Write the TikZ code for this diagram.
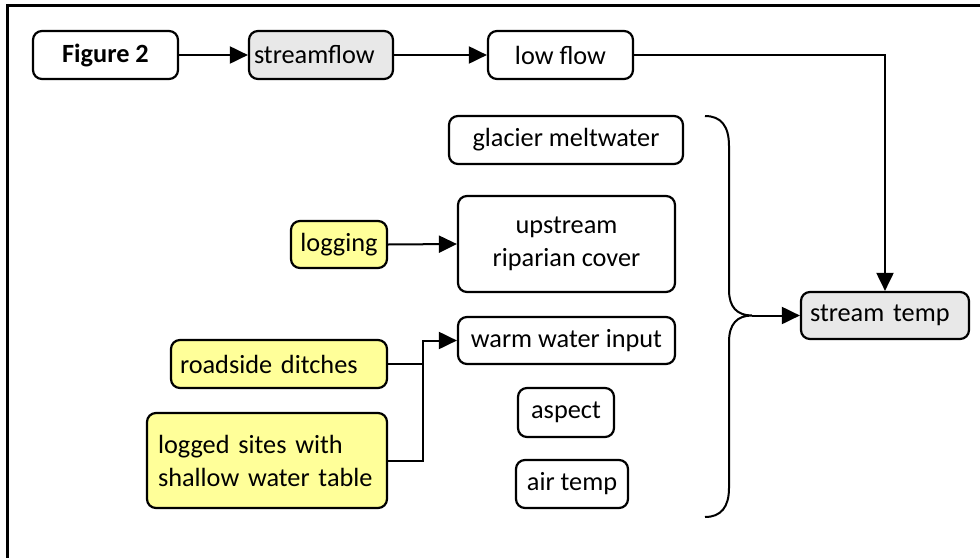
\documentclass[tikz,border=0pt]{standalone}
\usepackage{fontspec}
\setmainfont{Carlito}
\usetikzlibrary{arrows.meta}
\definecolor{hlyellow}{HTML}{FFFF99}
\definecolor{hlgray}{HTML}{E8E8E8}
\tikzset{
  bx/.style={draw, rounded corners=9pt, line width=2.2pt, inner sep=0pt, font=\fontsize{26.3}{33}\selectfont, align=center},
  yel/.style={fill=hlyellow},
  gry/.style={fill=hlgray},
  arr/.style={line width=2pt, -{Triangle[length=18pt,width=17pt]}},
  ln/.style={line width=2pt},
}
\begin{document}
\begin{tikzpicture}[x=1pt,y=-1pt]
\useasboundingbox (0,0) rectangle (980,557);
% frame
\draw[line width=3pt] (7,560) -- (7,5.5) -- (985,5.5);
% nodes
\node[bx, minimum width=145pt, minimum height=48pt] (fig) at (105.5,55) {\textbf{Figure 2}};
\node[bx, gry, minimum height=48pt, text width=134pt, inner xsep=5pt, align=left] (sf) at (321,55) {streamflow};
\node[bx, minimum width=145pt, minimum height=48pt] (lf) at (560.5,55) {low flow};
\node[bx, minimum width=234pt, minimum height=48pt] (gm) at (566,140) {glacier meltwater};
\node[bx, yel, minimum width=96pt, minimum height=47pt] (lg) at (339,244.5) {logging};
\node[bx, minimum width=217pt, minimum height=96pt] (up) at (566.5,244) {upstream\\riparian cover};
\node[bx, minimum width=217pt, minimum height=47pt] (ww) at (566.5,340.5) {warm water input};
\node[bx, yel, minimum height=48pt, text width=198pt, inner xsep=9pt, align=left] (rd) at (279,364) {roadside ditches};
\node[bx, yel, minimum height=95pt, text width=218pt, inner xsep=11pt, align=left] (ls) at (267,460.5) {logged sites with\\shallow water table};
\node[bx, minimum width=96pt, minimum height=49pt] (as) at (566,412.5) {aspect};
\node[bx, minimum width=112pt, minimum height=48pt] (at) at (572,484) {air temp};
\node[bx, gry, minimum height=47pt, text width=150pt, inner xsep=9pt, align=left] (st) at (885,315.5) {stream temp};
% connectors
\draw[arr] (fig.east) -- (sf.west);
\draw[arr] (sf.east) -- (lf.west);
\draw[arr] (lf.east) -| (st.north);
\draw[arr] (lg.east) -- (up.west);
\coordinate (j) at (423,0);
\draw[ln] (rd.east) -- (rd.east -| j);
\draw[arr] (ls.east) -| (j |- ww.west) -- (ww.west);
% brace
\coordinate (tip) at (752,315.5);
\draw[ln] (705,116) .. controls (721,116) and (729,126) .. (729,146) -- (729,290)
  .. controls (729,307) and (737,315.5) .. (tip)
  .. controls (737,315.5) and (729,324) .. (729,342) -- (729,488)
  .. controls (729,507) and (721,517) .. (705,517);
\draw[arr] (tip) -- (st.west);
\end{tikzpicture}
\end{document}
